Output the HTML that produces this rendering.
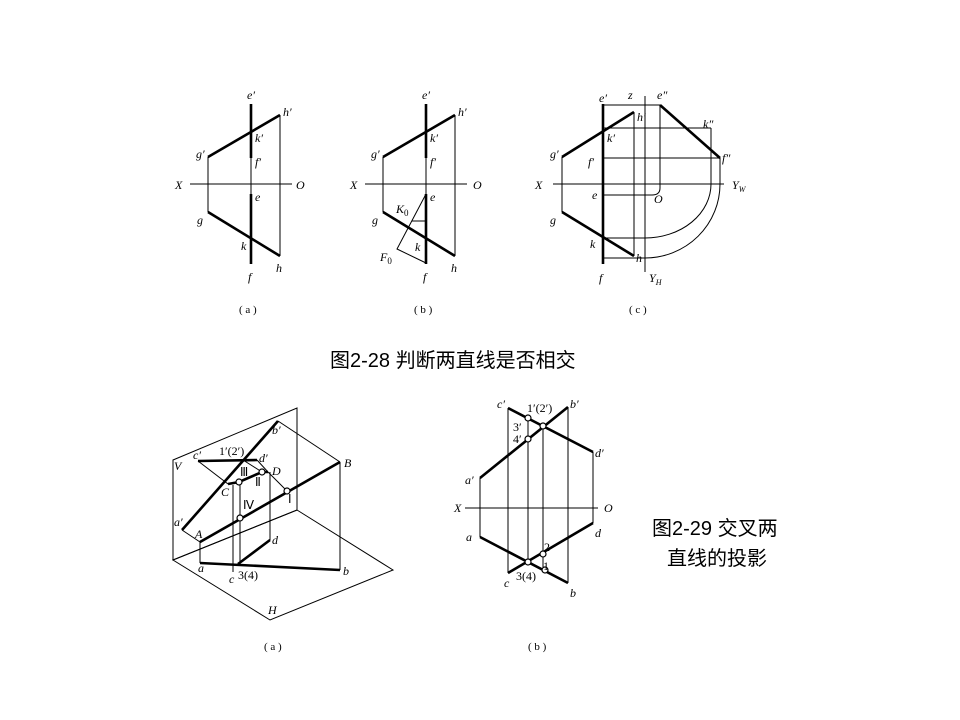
<!DOCTYPE html>
<html><head><meta charset="utf-8"><style>
html,body{margin:0;padding:0;background:#fff;width:960px;height:720px;overflow:hidden}
svg{display:block}
.t{stroke:#000;stroke-width:1;fill:none}
.k{stroke:#000;stroke-width:2.6;fill:none}
text{font-family:"Liberation Serif",serif;font-style:italic;font-size:12px;fill:#000}
.n{font-style:normal}
.cj{font-family:"Liberation Sans","Noto Sans CJK SC",sans-serif;font-style:normal;font-size:20px}
circle{fill:#fff;stroke:#000;stroke-width:1.2}
</style></head><body>
<svg width="960" height="720" viewBox="0 0 960 720">
<!-- Fig (a) top -->
<line class="t" x1="190" y1="184" x2="292" y2="184"/>
<text x="175" y="189">X</text><text x="296" y="189">O</text>
<line class="k" x1="251" y1="104" x2="251" y2="158"/>
<line class="t" x1="251" y1="158" x2="251" y2="194"/>
<line class="k" x1="251" y1="194" x2="251" y2="264"/>
<line class="t" x1="208" y1="157" x2="208" y2="212"/>
<line class="t" x1="280" y1="115" x2="280" y2="256"/>
<line class="k" x1="208" y1="157" x2="280" y2="115"/>
<line class="k" x1="208" y1="212" x2="280" y2="256"/>
<text x="247" y="99">e′</text><text x="283" y="116">h′</text><text x="196" y="158">g′</text>
<text x="255" y="142">k′</text><text x="255" y="166">f′</text><text x="255" y="201">e</text>
<text x="197" y="224">g</text><text x="241" y="250">k</text><text x="248" y="281">f</text><text x="276" y="272">h</text>
<text class="n" x="239" y="313" style="font-size:11px">( a )</text>
<!-- Fig (b) top -->
<line class="t" x1="365" y1="184" x2="467" y2="184"/>
<text x="350" y="189">X</text><text x="473" y="189">O</text>
<line class="k" x1="426" y1="104" x2="426" y2="158"/>
<line class="t" x1="426" y1="158" x2="426" y2="194"/>
<line class="k" x1="426" y1="194" x2="426" y2="264"/>
<line class="t" x1="383" y1="157" x2="383" y2="212"/>
<line class="t" x1="455" y1="115" x2="455" y2="256"/>
<line class="k" x1="383" y1="157" x2="455" y2="115"/>
<line class="k" x1="383" y1="212" x2="455" y2="256"/>
<polyline class="t" points="426,194 397,249 426,263"/>
<line class="t" x1="412" y1="221" x2="426" y2="221"/>
<text x="422" y="99">e′</text><text x="458" y="116">h′</text><text x="371" y="158">g′</text>
<text x="430" y="142">k′</text><text x="430" y="166">f′</text><text x="430" y="201">e</text>
<text x="372" y="224">g</text><text x="415" y="251">k</text><text x="423" y="281">f</text><text x="451" y="272">h</text>
<text x="396" y="213">K<tspan class="n" font-size="9" dy="3">0</tspan></text>
<text x="380" y="261">F<tspan class="n" font-size="9" dy="3">0</tspan></text>
<text class="n" x="414" y="313" style="font-size:11px">( b )</text>
<!-- Fig (c) top -->
<line class="t" x1="553" y1="184" x2="724" y2="184"/>
<text x="535" y="189">X</text><text x="732" y="189">Y<tspan font-size="8" dy="3">W</tspan></text>
<line class="t" x1="645" y1="96" x2="645" y2="272"/>
<line class="k" x1="603" y1="104" x2="603" y2="264"/>
<line class="t" x1="562" y1="157" x2="562" y2="212"/>
<line class="t" x1="634" y1="112" x2="634" y2="256"/>
<line class="k" x1="562" y1="157" x2="634" y2="112"/>
<line class="k" x1="562" y1="212" x2="634" y2="256"/>
<line class="t" x1="603" y1="105" x2="660" y2="105"/>
<line class="t" x1="603" y1="128" x2="711" y2="128"/>
<line class="t" x1="603" y1="158" x2="720" y2="158"/>
<line class="k" x1="660" y1="105" x2="720" y2="158"/>
<path class="t" d="M660,105 V188 Q660,195 652,195 H603"/>
<path class="t" d="M711,128 V184 A66,54 0 0 1 645,238 H603"/>
<path class="t" d="M720,158 V184 A75,74 0 0 1 645,258 H603"/>
<text x="599" y="102">e′</text><text x="628" y="99">z</text><text x="657" y="99">e″</text>
<text x="637" y="121">h′</text><text x="607" y="142">k′</text><text x="703" y="128">k″</text>
<text x="550" y="158">g′</text><text x="588" y="166">f′</text><text x="722" y="162">f″</text>
<text x="592" y="199">e</text><text x="654" y="203">O</text>
<text x="550" y="224">g</text><text x="590" y="248">k</text><text x="636" y="262">h</text>
<text x="599" y="282">f</text><text x="649" y="282">Y<tspan font-size="8" dy="3">H</tspan></text>
<text class="n" x="629" y="313" style="font-size:11px">( c )</text>
<text class="cj" x="330" y="367">图2-28  判断两直线是否相交</text>

<!-- Bottom (a) -->
<polygon class="t" points="173,460 297,408 297,510 173,560"/>
<polygon class="t" points="173,560 297,510 393,570 270,620"/>
<line class="t" x1="278" y1="421" x2="340" y2="462"/>
<polyline class="t" points="340,462 340,570"/>
<line class="k" x1="182" y1="530" x2="278" y2="421"/>
<line class="t" x1="182" y1="530" x2="200" y2="542"/>
<line class="k" x1="200" y1="542" x2="340" y2="462"/>
<line class="t" x1="200" y1="542" x2="200" y2="563"/>
<line class="k" x1="200" y1="563" x2="340" y2="570"/>
<line class="k" x1="198" y1="461" x2="257" y2="460"/>
<line class="t" x1="198" y1="461" x2="228" y2="484"/>
<polyline class="k" points="228,484 239,482 262,472 268,472"/>
<line class="t" x1="257" y1="460" x2="268" y2="472"/>
<line class="t" x1="243" y1="460" x2="262" y2="472"/>
<line class="t" x1="268" y1="472" x2="287" y2="491"/>
<line class="t" x1="233" y1="485" x2="233" y2="572"/>
<line class="t" x1="240" y1="482" x2="240" y2="565"/>
<line class="t" x1="270" y1="472" x2="270" y2="540"/>
<line class="k" x1="238" y1="564" x2="270" y2="540"/>
<circle cx="239" cy="482" r="3"/><circle cx="262" cy="472" r="3"/>
<circle cx="287" cy="491" r="3"/><circle cx="240" cy="518" r="3"/>
<text x="174" y="470">V</text><text x="272" y="434">b′</text><text x="344" y="467">B</text>
<text x="193" y="459">c′</text><text class="n" x="219" y="455">1′(2′)</text><text x="259" y="462">d′</text>
<text x="272" y="475">D</text><text class="n" x="240" y="476" font-size="11">Ⅲ</text><text class="n" x="255" y="486" font-size="11">Ⅱ</text>
<text x="221" y="496">C</text><text class="n" x="243" y="509" font-size="11">Ⅳ</text><text class="n" x="288" y="503">Ⅰ</text>
<text x="174" y="526">a′</text><text x="195" y="538">A</text><text x="272" y="544">d</text>
<text x="198" y="572">a</text><text x="229" y="583">c</text><text class="n" x="238" y="579">3(4)</text><text x="343" y="575">b</text>
<text x="268" y="614">H</text>
<text class="n" x="264" y="650" style="font-size:11px">( a )</text>
<!-- Bottom (b) -->
<line class="t" x1="465" y1="508" x2="598" y2="508"/>
<text x="454" y="512">X</text><text x="604" y="512">O</text>
<line class="t" x1="508" y1="408" x2="508" y2="573"/>
<line class="t" x1="528" y1="416" x2="528" y2="565"/>
<line class="t" x1="543" y1="426" x2="543" y2="568"/>
<line class="t" x1="568" y1="407" x2="568" y2="583"/>
<line class="k" x1="508" y1="408" x2="593" y2="452"/>
<line class="k" x1="480" y1="478" x2="568" y2="407"/>
<line class="t" x1="593" y1="452" x2="593" y2="523"/>
<line class="t" x1="480" y1="478" x2="480" y2="537"/>
<line class="k" x1="480" y1="537" x2="568" y2="583"/>
<line class="k" x1="508" y1="573" x2="593" y2="523"/>
<circle cx="528" cy="418" r="3"/><circle cx="543" cy="426" r="3"/><circle cx="528" cy="439" r="3"/>
<circle cx="528" cy="562" r="3"/><circle cx="543" cy="554" r="3"/><circle cx="545" cy="570" r="3"/>
<text x="497" y="408">c′</text><text class="n" x="527" y="412">1′(2′)</text><text x="570" y="408">b′</text>
<text class="n" x="513" y="431">3′</text><text class="n" x="513" y="443">4′</text>
<text x="595" y="457">d′</text><text x="465" y="484">a′</text><text x="466" y="541">a</text><text x="595" y="537">d</text>
<text class="n" x="544" y="551">2</text><text class="n" x="543" y="570">1</text>
<text class="n" x="516" y="580">3(4)</text><text x="504" y="587">c</text><text x="570" y="597">b</text>
<text class="n" x="528" y="650" style="font-size:11px">( b )</text>
<text class="cj" x="652" y="535">图2-29  交叉两</text>
<text class="cj" x="667" y="565">直线的投影</text>
</svg>
</body></html>
